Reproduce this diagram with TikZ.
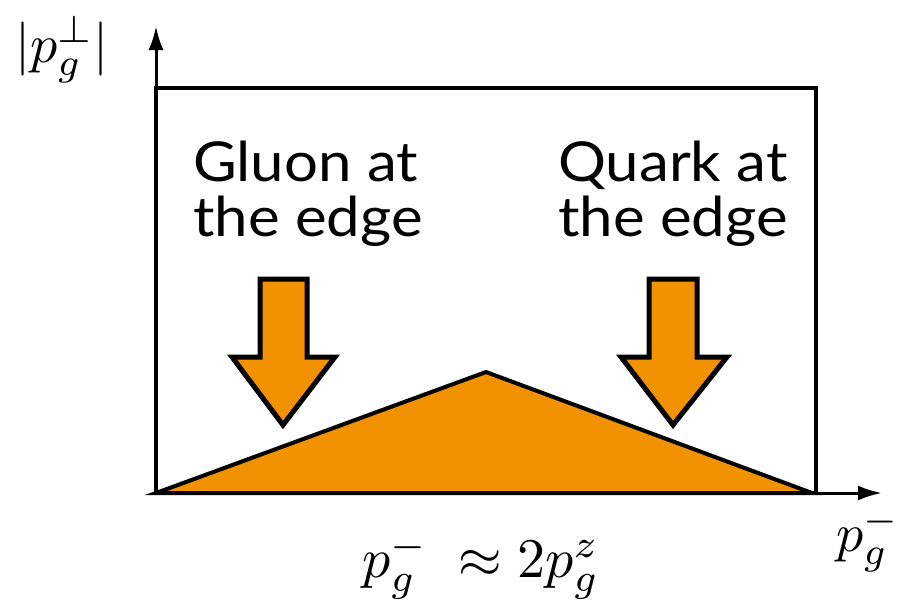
\documentclass[tikz,border=0pt]{standalone}
\usepackage{fontspec}
\setmainfont{Lato}
\usetikzlibrary{arrows.meta}
\definecolor{orangefill}{RGB}{243,146,0}
\tikzset{
  axis/.style={line width=3pt,-{Latex[length=24pt,width=15pt]}},
  frame/.style={line width=3.8pt},
  bigarrow/.style={fill=orangefill,draw=black,line width=5pt,line join=miter},
  tri/.style={fill=orangefill,draw=black,line width=4pt,line join=miter},
  lbl/.style={font=\fontsize{55}{58}\selectfont,anchor=base west,inner sep=0pt,xscale=1.09},
  mathlbl/.style={inner sep=0pt,scale=5.4},
  rellbl/.style={inner sep=0pt,scale=5.6}
}
\begin{document}
\begin{tikzpicture}[x=1pt,y=-1pt]
\useasboundingbox (0,0) rectangle (903,611);
\fill[white] (0,0) rectangle (903,611);
% box
\draw[frame] (156,88) rectangle (816,493);
% triangle
\draw[tri] (156,493) -- (486,372) -- (812,493) -- cycle;
% axes
\coordinate (o) at (156,493);
\coordinate (ytip) at (156,26);
\coordinate (xtip) at (882,493);
\draw[axis] (o) -- (ytip);
\draw[axis] (o) -- (xtip);
% arrows
\draw[bigarrow] (260,279) -- (307,279) -- (307,357) -- (335,357) -- (283,425) -- (232,357) -- (260,357) -- cycle;
\draw[bigarrow] (649,279) -- (697,279) -- (697,357) -- (727,357) -- (673,425) -- (621,357) -- (649,357) -- cycle;
% texts
\node[lbl] (g1) at (193,181) {Gluon at};
\node[lbl] (g2) at (193,236) {the edge};
\node[lbl] (q1) at (558,181) {Quark at};
\node[lbl] (q2) at (558,236) {the edge};
% math labels
\node[mathlbl] (ylab) at (62,50) {$|p_g^\perp|$};
\node[mathlbl] (xlab) at (868,540) {$p_g^-$};
\node[rellbl] (rel) at (481,566) {$p_g^-\ \approx 2p_g^z$};
\end{tikzpicture}
\end{document}
